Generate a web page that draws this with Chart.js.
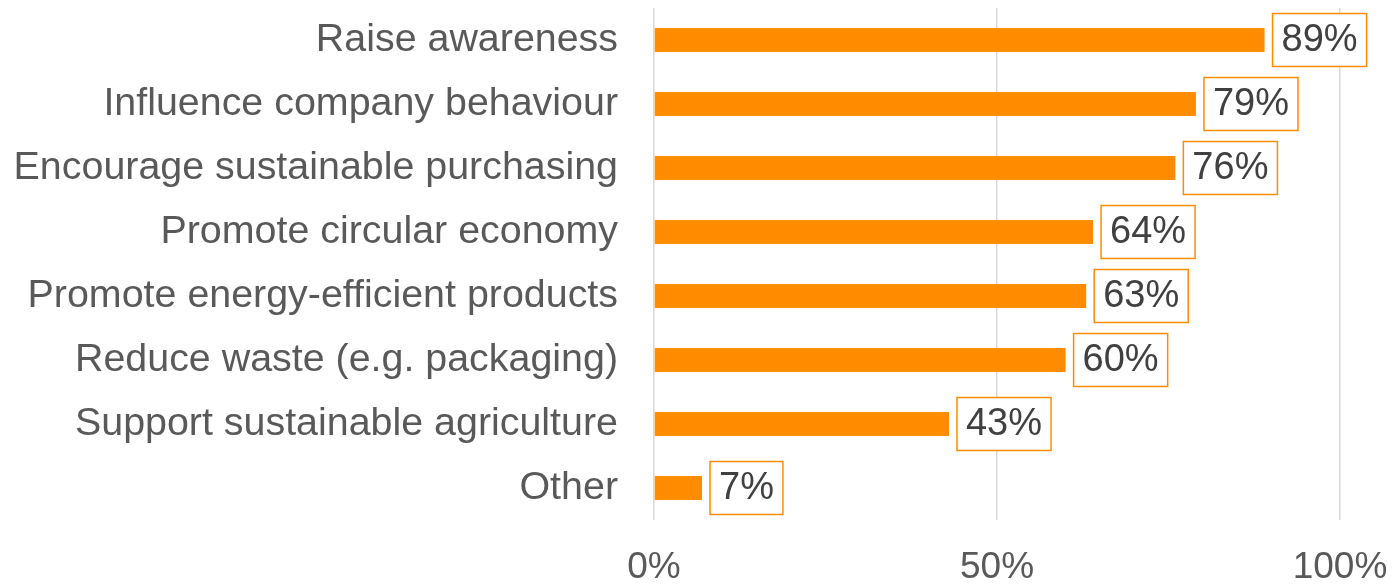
<!DOCTYPE html>
<html>
<head>
<meta charset="utf-8">
<script src="https://cdn.jsdelivr.net/npm/chart.js@4"></script>
<style>
  html, body { margin: 0; padding: 0; background: #fff; }
  #wrap { width: 1395px; height: 584px; }
</style>
</head>
<body>
<div id="wrap"><canvas id="chart"></canvas></div>
<script>
const categories = [
  'Raise awareness',
  'Influence company behaviour',
  'Encourage sustainable purchasing',
  'Promote circular economy',
  'Promote energy-efficient products',
  'Reduce waste (e.g. packaging)',
  'Support sustainable agriculture',
  'Other'
];
const shares = [89, 79, 76, 64, 63, 60, 43, 7];
const xTicks = [0, 50, 100];

const FONT = '"Liberation Sans", Arial, sans-serif';
const ORANGE = '#FF8C00';

// boxed value labels at the end of each bar
const valueBoxes = {
  id: 'valueBoxes',
  afterDatasetsDraw(chart) {
    const ctx = chart.ctx;
    const meta = chart.getDatasetMeta(0);
    ctx.save();
    ctx.font = '38px ' + FONT;
    ctx.textBaseline = 'middle';
    ctx.textAlign = 'left';
    meta.data.forEach((bar, i) => {
      const txt = shares[i] + '%';
      const w = ctx.measureText(txt).width;
      const left = bar.x + 8;
      const h = 53;
      const top = bar.y - h / 2;
      ctx.fillStyle = '#fff';
      ctx.fillRect(left, top, w + 18, h);
      ctx.strokeStyle = ORANGE;
      ctx.lineWidth = 1.5;
      ctx.strokeRect(left, top, w + 18, h);
      ctx.fillStyle = '#404040';
      ctx.fillText(txt, left + 9, bar.y + 1);
    });
    ctx.restore();
  }
};

// keep the plot area fixed: no extra room for overhanging labels
const noPad = (scale) => {
  scale.paddingLeft = 0;
  scale.paddingRight = 0;
  scale.paddingTop = 0;
  scale.paddingBottom = 0;
};

new Chart(document.getElementById('chart'), {
  type: 'bar',
  data: {
    labels: categories,
    datasets: [{
      data: shares,
      backgroundColor: ORANGE,
      borderWidth: 0,
      barPercentage: 0.75,
      categoryPercentage: 0.5
    }]
  },
  options: {
    indexAxis: 'y',
    responsive: true,
    maintainAspectRatio: false,
    animation: false,
    layout: { padding: { top: 8, right: 55, left: 0, bottom: 0 } },
    plugins: {
      legend: { display: false },
      tooltip: { enabled: false }
    },
    scales: {
      x: {
        min: 0,
        max: 100,
        afterBuildTicks: (scale) => { scale.ticks = xTicks.map(v => ({ value: v })); },
        afterFit: (scale) => { scale.height = 64; noPad(scale); },
        grid: { color: '#d9d9d9', lineWidth: 1.5, drawTicks: false },
        border: { display: false },
        ticks: {
          padding: 26,
          maxRotation: 0,
          color: '#595959',
          font: { family: FONT, size: 37 },
          callback: (v) => v + '%'
        }
      },
      y: {
        afterFit: (scale) => { scale.width = 654; noPad(scale); },
        grid: { display: false, drawTicks: false },
        border: { display: false },
        ticks: {
          padding: 36,
          color: '#595959',
          font: { family: FONT, size: 39.4 }
        }
      }
    }
  },
  plugins: [valueBoxes]
});
</script>
</body>
</html>
